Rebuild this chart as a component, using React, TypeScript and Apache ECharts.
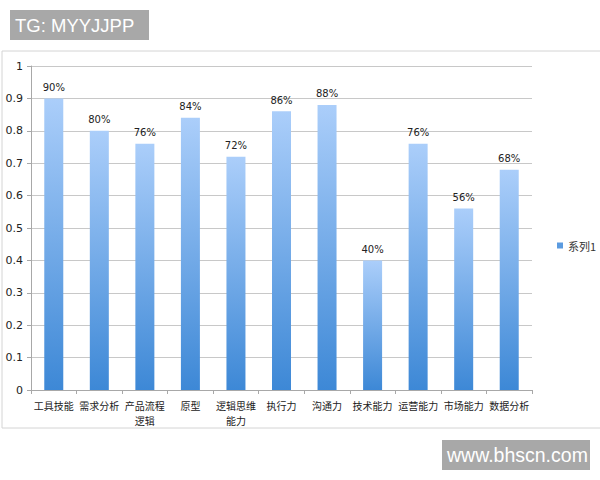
import { useEffect, useRef } from 'react'
import * as echarts from 'echarts'

const categories = ['工具技能', '需求分析', '产品流程\n逻辑', '原型', '逻辑思维\n能力', '执行力', '沟通力', '技术能力', '运营能力', '市场能力', '数据分析']
const values = [0.9, 0.8, 0.76, 0.84, 0.72, 0.86, 0.88, 0.4, 0.76, 0.56, 0.68]
const seriesName = '系列1'

const FONT = '"DejaVu Sans", "Noto Sans CJK SC", sans-serif'
const CJK = '"Noto Sans CJK SC", sans-serif'

export default function App() {
  const elRef = useRef<HTMLDivElement | null>(null)

  useEffect(() => {
    document.body.style.margin = '0'
    if (!elRef.current) return
    const chart = echarts.init(elRef.current, undefined, { renderer: 'svg' })
    chart.setOption({
      animation: false,
      backgroundColor: '#ffffff',
      grid: { left: 31, right: 68, top: 66, bottom: 90 },
      legend: {
        left: 552,
        top: 235,
        itemWidth: 6,
        itemHeight: 6,
        itemGap: 4,
        icon: 'rect',
        textStyle: { fontSize: 11, color: '#333', fontFamily: CJK },
        data: [{ name: seriesName, itemStyle: { color: '#5b9be0' } }],
      },
      xAxis: {
        type: 'category',
        data: categories,
        axisLine: { lineStyle: { color: '#a8a8a8' } },
        axisTick: { show: true, length: 4, lineStyle: { color: '#a8a8a8' } },
        axisLabel: { interval: 0, color: '#222', fontSize: 10, fontFamily: CJK, lineHeight: 15, margin: 8 },
      },
      yAxis: {
        type: 'value',
        min: 0,
        max: 1,
        interval: 0.1,
        axisLine: { show: true, lineStyle: { color: '#a8a8a8' } },
        axisTick: { show: true, length: 4, lineStyle: { color: '#a8a8a8' } },
        axisLabel: {
          color: '#222',
          fontSize: 11,
          fontFamily: FONT,
          margin: 8,
          formatter: (v: number) => String(Number(v.toFixed(1))),
        },
        splitLine: { lineStyle: { color: '#c8c8c8' } },
      },
      series: [
        {
          name: seriesName,
          type: 'bar',
          data: values,
          barWidth: 19,
          itemStyle: {
            color: {
              type: 'linear', x: 0, y: 0, x2: 0, y2: 1,
              colorStops: [
                { offset: 0, color: '#abcefa' },
                { offset: 1, color: '#3d88d6' },
              ],
            },
          },
          label: {
            show: true,
            position: 'top',
            distance: 6,
            color: '#222',
            fontSize: 10,
            fontFamily: FONT,
            formatter: (p: any) => `${Math.round(p.value * 100)}%`,
          },
        },
      ],
      graphic: [
        {
          type: 'rect',
          shape: { x: 2, y: 51, width: 620, height: 377 },
          style: { fill: 'none', stroke: '#d4d4d4', lineWidth: 1 },
          silent: true,
        },
        {
          type: 'rect',
          shape: { x: 10, y: 10, width: 139, height: 30 },
          style: { fill: '#a8a8a8' },
        },
        {
          type: 'text',
          x: 15,
          y: 25,
          style: { text: 'TG: MYYJJPP', fill: '#ffffff', fontSize: 18.5, fontFamily: '"Liberation Sans", Arial, sans-serif', verticalAlign: 'middle' },
        },
        {
          type: 'rect',
          shape: { x: 442, y: 440, width: 148, height: 30 },
          style: { fill: '#a8a8a8' },
        },
        {
          type: 'text',
          x: 447,
          y: 455,
          style: { text: 'www.bhscn.com', fill: '#ffffff', fontSize: 19.5, fontFamily: '"Liberation Sans", Arial, sans-serif', verticalAlign: 'middle' },
        },
      ],
    })
    return () => {
      chart.dispose()
    }
  }, [])

  return <div ref={elRef} style={{ width: 600, height: 480 }} />
}
